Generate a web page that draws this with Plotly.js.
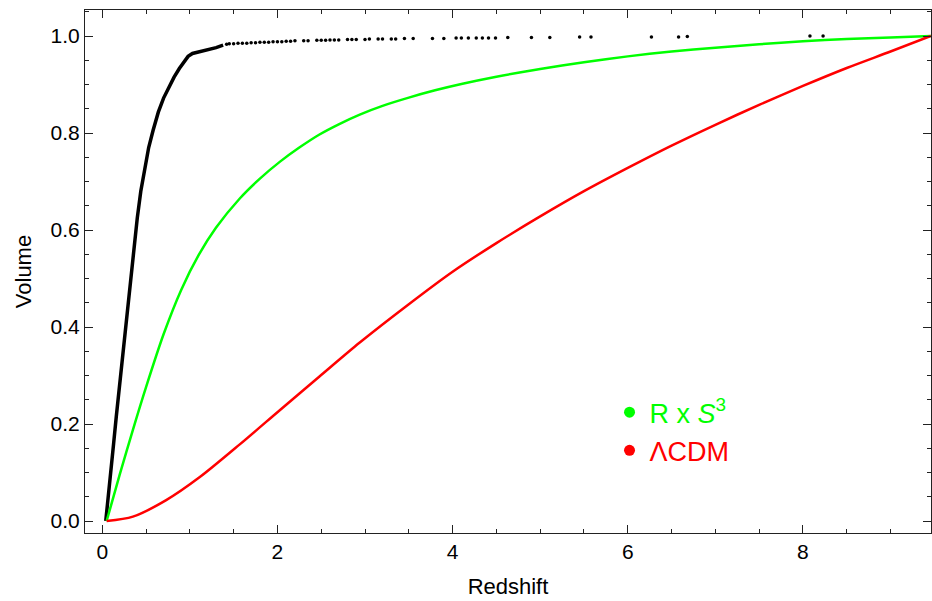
<!DOCTYPE html>
<html>
<head>
<meta charset="utf-8">
<script src="https://cdn.plot.ly/plotly-3.0.1.min.js"></script>
<style>html,body{margin:0;padding:0;background:#fff;}#chart{width:932px;height:601px;}</style>
</head>
<body>
<div id="chart"></div>
<script>
// Black: empirical distribution, steep rising part
const obsRiseX = [0.04,0.07,0.10,0.13,0.16,0.20,0.24,0.28,0.32,0.36,0.40,0.44,0.48,0.53,0.58,0.64,0.70,0.76,0.82,0.88,0.94,0.98,1.03,1.10,1.20,1.30,1.38];
const obsRiseY = [0.00,0.06,0.11,0.16,0.215,0.285,0.355,0.42,0.49,0.56,0.625,0.68,0.725,0.77,0.805,0.843,0.872,0.895,0.915,0.933,0.95,0.958,0.964,0.967,0.971,0.976,0.981];
// Black: sparse tail points
const obsTailX = [1.42,1.45,1.5,1.55,1.6,1.65,1.7,1.75,1.8,1.85,1.9,1.95,2.0,2.05,2.1,2.15,2.2,2.3,2.35,2.45,2.5,2.55,2.6,2.65,2.7,2.8,2.85,2.9,3.0,3.05,3.15,3.2,3.3,3.35,3.45,3.55,3.77,3.90,4.04,4.10,4.18,4.27,4.34,4.41,4.49,4.63,4.90,5.11,5.45,5.58,6.27,6.58,6.68,8.08,8.23];
const obsTailY = [0.983,0.984,0.984,0.985,0.985,0.985,0.986,0.986,0.987,0.987,0.987,0.988,0.988,0.988,0.989,0.989,0.990,0.990,0.990,0.991,0.991,0.991,0.992,0.992,0.992,0.993,0.993,0.993,0.993,0.994,0.994,0.994,0.994,0.994,0.995,0.995,0.995,0.995,0.996,0.996,0.996,0.996,0.996,0.996,0.996,0.997,0.997,0.997,0.998,0.998,0.998,0.998,0.999,1.0,1.0];
// Green: R x S^3 model
const rs3X = [0.05,0.2,0.35,0.5,0.7,0.9,1.1,1.3,1.57,1.8,2.03,2.25,2.48,2.7,2.94,3.2,3.5,3.8,4.1,4.5,5.0,5.5,6.0,6.5,7.0,7.5,8.0,8.5,9.0,9.46];
const rs3Y = [0,0.096,0.188,0.276,0.385,0.476,0.548,0.605,0.665,0.706,0.741,0.770,0.797,0.818,0.838,0.856,0.873,0.888,0.901,0.916,0.932,0.946,0.958,0.968,0.976,0.983,0.989,0.994,0.997,1.0];
// Red: LambdaCDM model
const lcdmX = [0.05,0.35,0.73,1.11,1.57,2.03,2.48,2.94,3.5,4.0,4.5,5.0,5.5,6.0,6.5,7.0,7.5,8.0,8.5,9.0,9.46];
const lcdmY = [0,0.009,0.043,0.090,0.158,0.229,0.298,0.368,0.447,0.514,0.573,0.628,0.680,0.728,0.774,0.817,0.858,0.897,0.934,0.968,1.0];

const legendNames = ['R x <i>S</i><sup>3</sup>', 'ΛCDM'];
const legendColors = ['#00ff00', '#ff0000'];

const traces = [
  {x: obsRiseX, y: obsRiseY, mode: 'lines', line: {color: '#000', width: 3.5}, showlegend: false, hoverinfo: 'skip'},
  {x: obsTailX, y: obsTailY, mode: 'markers', marker: {color: '#000', size: 3.5}, showlegend: false, hoverinfo: 'skip'},
  {x: rs3X, y: rs3Y, mode: 'lines', line: {color: legendColors[0], width: 2.5, shape: 'spline', smoothing: 0.8}, showlegend: false},
  {x: lcdmX, y: lcdmY, mode: 'lines', line: {color: legendColors[1], width: 2.5, shape: 'spline', smoothing: 0.8}, showlegend: false},
  {x: [null], y: [null], mode: 'markers', marker: {color: legendColors[0], size: 11}, name: '<span style="color:#00ff00">' + legendNames[0] + '</span>'},
  {x: [null], y: [null], mode: 'markers', marker: {color: legendColors[1], size: 11}, name: '<span style="color:#ff0000">' + legendNames[1] + '</span>'}
];

const fam = 'Liberation Sans, Arial, sans-serif';
const tickFont = {family: fam, size: 21, color: '#000'};
const layout = {
  width: 932, height: 601,
  margin: {l: 85, r: 1, t: 10, b: 68},
  paper_bgcolor: '#fff', plot_bgcolor: '#fff',
  showlegend: true,
  legend: {x: 0.62, y: 0.277, xanchor: 'left', yanchor: 'top', bgcolor: 'rgba(0,0,0,0)',
           font: {family: fam, size: 27}, itemwidth: 30, tracegroupgap: 0},
  xaxis: {
    range: [-0.197, 9.462], showgrid: false, zeroline: false,
    showline: true, linecolor: '#222', linewidth: 1, mirror: 'allticks',
    ticks: 'inside', ticklen: 8, tickcolor: '#222', tickwidth: 1,
    tickvals: [0,2,4,6,8], ticktext: ['0','2','4','6','8'],
    minor: {dtick: 0.5, tick0: 0, ticks: 'inside', ticklen: 4, tickcolor: '#222', showgrid: false},
    tickfont: tickFont,
    title: {text: 'Redshift', font: {family: fam, size: 22, color: '#000'}, standoff: 16}
  },
  yaxis: {
    range: [-0.0247, 1.0536], showgrid: false, zeroline: false,
    showline: true, linecolor: '#222', linewidth: 1, mirror: 'allticks',
    ticks: 'inside', ticklen: 8, tickcolor: '#222', tickwidth: 1,
    tickvals: [0,0.2,0.4,0.6,0.8,1.0], ticktext: ['0.0','0.2','0.4','0.6','0.8','1.0'],
    minor: {dtick: 0.05, tick0: 0, ticks: 'inside', ticklen: 4, tickcolor: '#222', showgrid: false},
    tickfont: tickFont,
    title: {text: 'Volume', font: {family: fam, size: 22, color: '#000'}, standoff: 12}
  }
};

Plotly.newPlot('chart', traces, layout, {displayModeBar: false, staticPlot: true});
</script>
</body>
</html>
